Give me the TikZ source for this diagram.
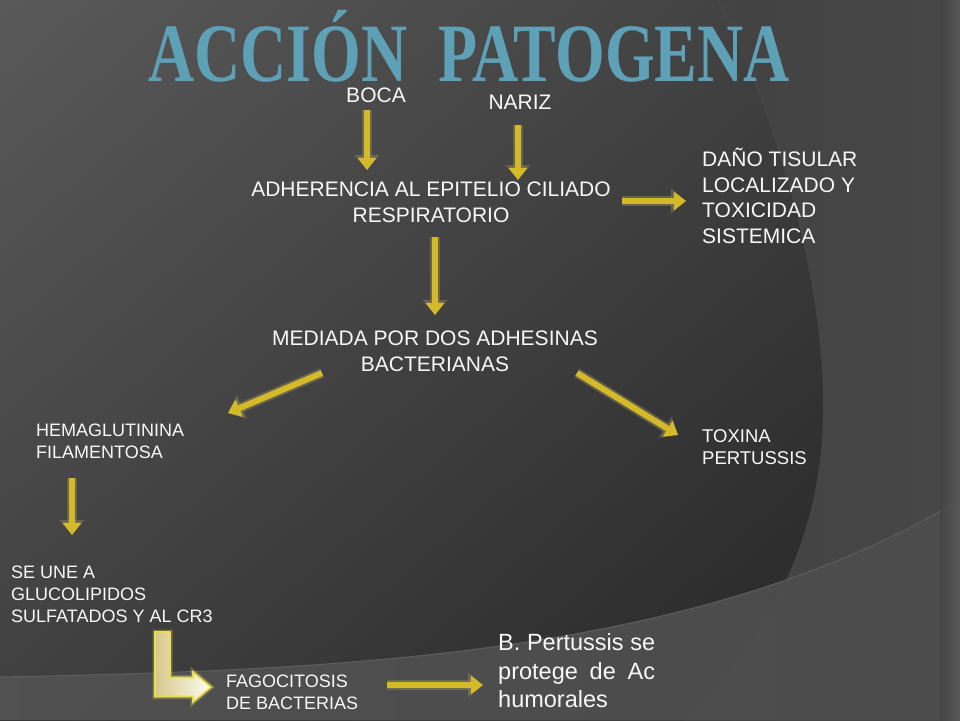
\documentclass[tikz,border=0pt]{standalone}
\usepackage{fontspec}
\setmainfont{Liberation Sans}
\newfontfamily\titlefont{Liberation Serif}
\usetikzlibrary{arrows.meta,calc,shadings}
\definecolor{ayel}{RGB}{212,186,40}
\definecolor{aglow}{RGB}{150,140,95}
\definecolor{ttl}{RGB}{94,160,182}
\definecolor{txtw}{RGB}{248,248,248}
\definecolor{lfillA}{RGB}{214,200,140}
\definecolor{lfillB}{RGB}{255,253,240}
\definecolor{ledge}{RGB}{232,222,80}
\tikzset{
  lbl/.style={text=txtw, inner sep=0pt, font=\fontsize{21}{25.7}\selectfont},
  lbls/.style={text=txtw, inner sep=0pt, font=\fontsize{18}{22.5}\selectfont},
  ttlstyle/.style={text=ttl, inner sep=0pt, font=\titlefont\bfseries\fontsize{83}{83}\selectfont, xscale=0.77},
  yarrow/.style={draw=ayel, line width=6pt, -{Triangle[width=18pt,length=12pt]},
    preaction={draw=aglow, opacity=0.45, line width=10pt, -{Triangle[width=24pt,length=15pt]}}},
  lshape/.style={left color=lfillA, right color=lfillB, draw=ledge, line width=1.6pt, line join=miter,
    preaction={draw=ledge, opacity=0.3, line width=5pt}}
}
\begin{document}
\begin{tikzpicture}[x=1pt,y=-1pt]
\useasboundingbox (0,0) rectangle (960,720);
% background
\shade[left color=black!80, right color=black!72] (0,0) rectangle (960,720);
\shade[upper left=black!65, upper right=black!75, lower left=black!75, lower right=black!85]
  (0,0) -- (718,0) .. controls (775,110) and (830,290) .. (823,430)
  .. controls (818,540) and (770,640) .. (683,720) -- (0,720) -- cycle;
\draw[black!70, line width=1pt, opacity=0.7] (718,0) .. controls (775,110) and (830,290) .. (823,430)
  .. controls (818,540) and (770,640) .. (683,720);
\shade[left color=black!68, right color=black!70, opacity=0.95]
  (0,677) .. controls (350,670) and (700,655) .. (960,500) -- (960,720) -- (0,720) -- cycle;
\draw[black!63, line width=1pt] (0,677) .. controls (350,670) and (700,655) .. (960,500);
\shade[left color=black!74, right color=black!64, opacity=0.8] (940,0) rectangle (960,720);
% title
\node[ttlstyle, anchor=base west] (t1) at (148,81) {ACCIÓN};
\node[ttlstyle, anchor=base west] (t2) at (438,81) {PATOGENA};
% labels
\node[lbl, anchor=base] (boca) at (376,102) {BOCA};
\node[lbl, anchor=base] (nariz) at (520,109) {NARIZ};
\node[lbl, anchor=south, align=center] (adh) at (431,223) {ADHERENCIA AL EPITELIO CILIADO\\RESPIRATORIO};
\node[lbl, anchor=south west, align=left] (dano) at (702,244) {DAÑO TISULAR\\LOCALIZADO Y\\TOXICIDAD\\SISTEMICA};
\node[lbl, anchor=south, align=center] (med) at (435,372) {MEDIADA POR DOS ADHESINAS\\BACTERIANAS};
\node[lbls, anchor=south west, align=left] (hem) at (36,459) {HEMAGLUTININA\\FILAMENTOSA};
\node[lbls, anchor=south west, align=left, font=\fontsize{18.5}{22.5}\selectfont] (tox) at (702,465) {TOXINA\\PERTUSSIS};
\node[lbls, anchor=south west, align=left, font=\fontsize{18}{22}\selectfont] (seune) at (11,623) {SE UNE A\\GLUCOLIPIDOS\\SULFATADOS Y AL CR3};
\node[lbls, anchor=south west, align=left, font=\fontsize{18}{22}\selectfont] (fago) at (226,710) {FAGOCITOSIS\\DE BACTERIAS};
\node[text=txtw, inner sep=0pt, anchor=south west, align=left, font=\fontsize{23.5}{28.5}\selectfont] (bper) at (498,708)
  {\makebox[157pt][s]{B. Pertussis se}\\\makebox[157pt][s]{protege de Ac}\\humorales};
% arrows
\draw[yarrow] ([shift={(-9,8)}]boca.base) -- ([shift={(-64,-53)}]adh.south);
\draw[yarrow] ([shift={(-2,16)}]nariz.base) -- ([shift={(87,-43)}]adh.south);
\draw[yarrow] ([shift={(191,-22)}]adh.south) -- ([shift={(-16,-43)}]dano.south west);
\draw[yarrow] ([shift={(4,14)}]adh.south) -- ([shift={(0,-57)}]med.south);
\draw[yarrow] ([shift={(-113,1)}]med.south) -- ([shift={(192,-46)}]hem.south west);
\draw[yarrow] ([shift={(142,1)}]med.south) -- ([shift={(-24,-30)}]tox.south west);
\draw[yarrow] ([shift={(36,19)}]hem.south west) -- ([shift={(61,-88)}]seune.south west);
\draw[yarrow] ([shift={(161,-25)}]fago.south west) -- ([shift={(-15,-23)}]bper.south west);
% bent arrow
\coordinate (Ltop) at ([shift={(151.5,9)}]seune.south west);
\coordinate (Ltip) at ([shift={(-15,-23)}]fago.south west);
\path[lshape] let \p1=(Ltop), \p2=(Ltip) in
  (\x1-7.5pt,\y1) -- (\x1+7.5pt,\y1) -- (\x1+7.5pt,\y2+9.5pt) -- (\x2-18pt,\y2+9.5pt)
  -- (\x2-18pt,\y2+15pt) -- (\x2,\y2) -- (\x2-18pt,\y2-15pt) -- (\x2-18pt,\y2-9.5pt)
  -- (\x1-7.5pt,\y2-9.5pt) -- cycle;
\end{tikzpicture}
\end{document}
